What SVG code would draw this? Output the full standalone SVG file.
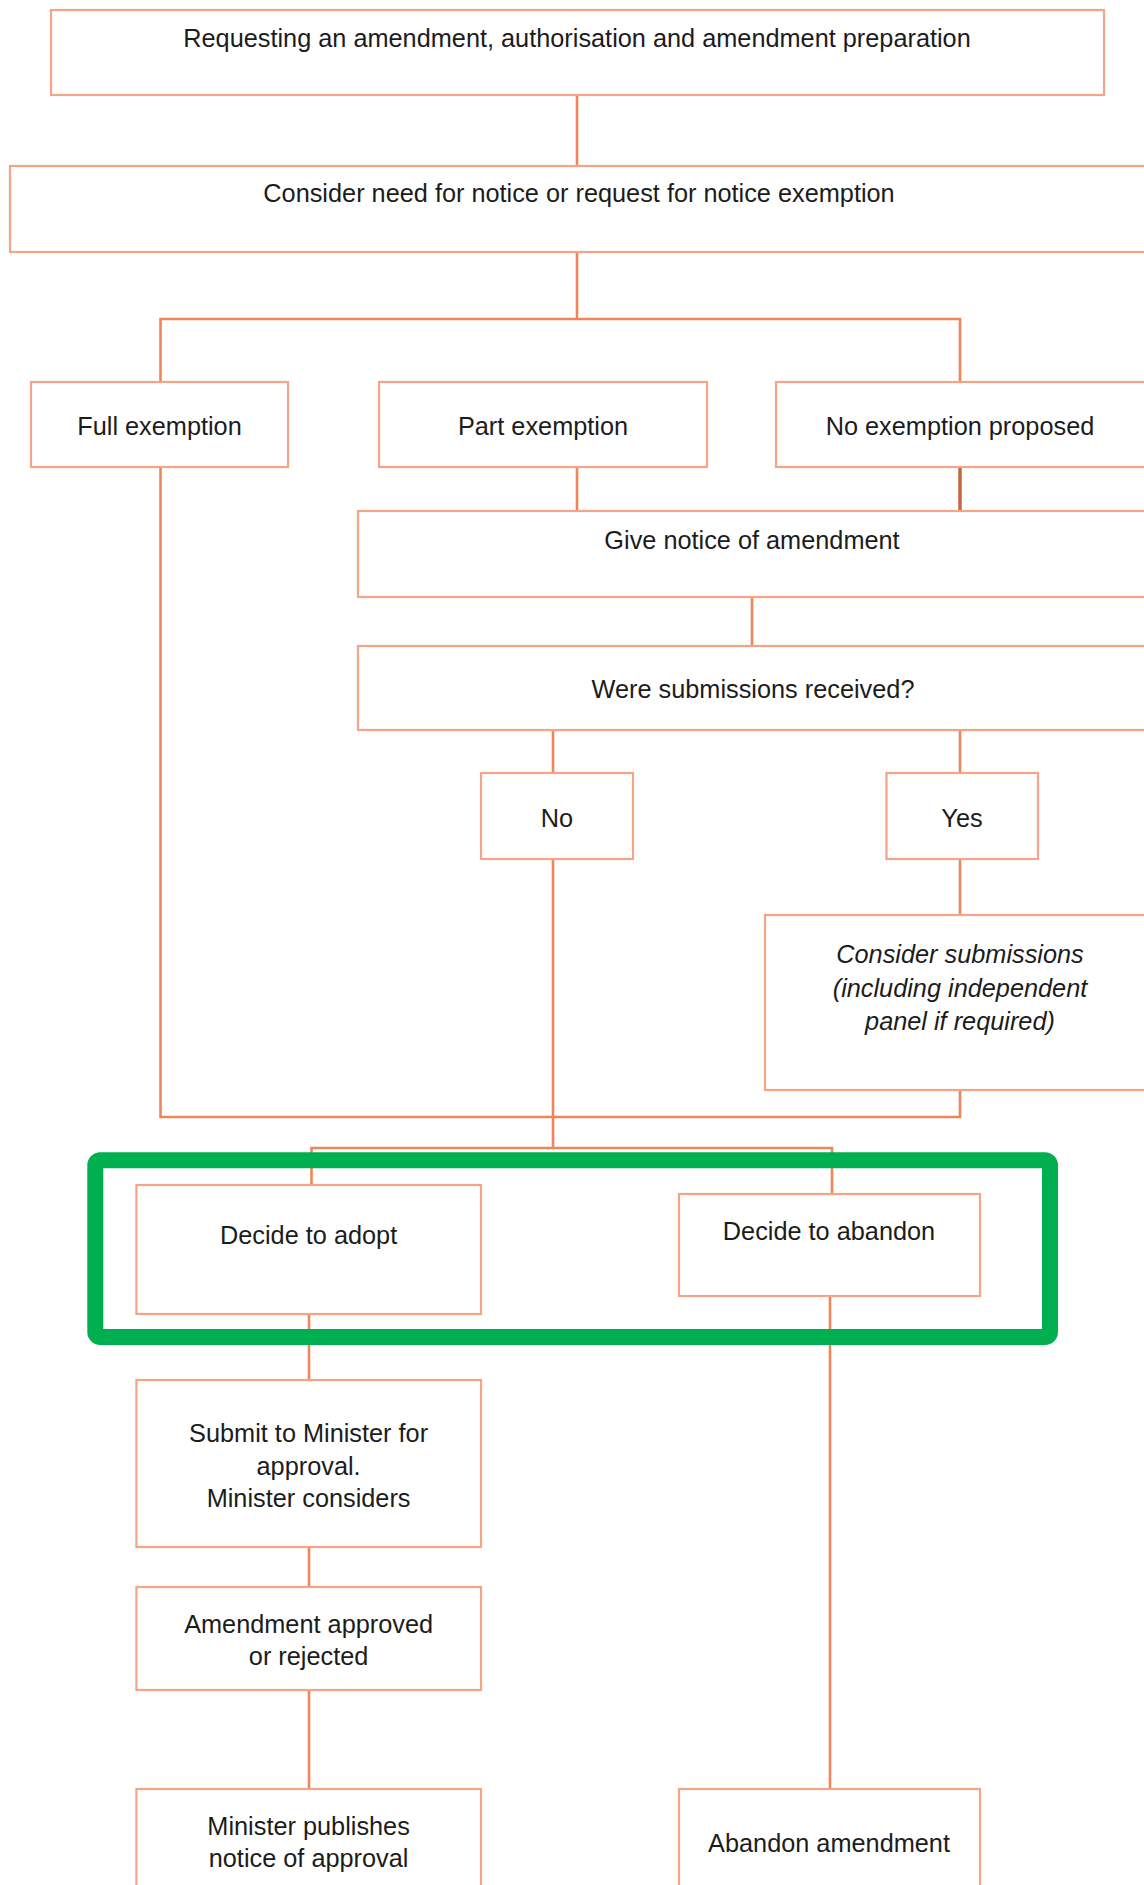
<svg xmlns="http://www.w3.org/2000/svg" width="1144" height="1885" viewBox="0 0 1144 1885">
<style>
.box{fill:#ffffff;stroke:#F5A585;stroke-width:2.2}
.t{font-family:"Liberation Sans",Arial,sans-serif;font-size:25.3px;fill:#1c1c1c;text-anchor:middle}
.it{font-style:italic}
.c{fill:none;stroke:#F08559;stroke-width:2.6}
.cd{fill:none;stroke:#C9653C;stroke-width:3.5}
.hl{fill:none;stroke:#00B050;stroke-width:16}
</style>
<rect x="0" y="0" width="1144" height="1885" fill="#ffffff"/>
<g id="connectors">
<line class="c" x1="577" y1="95" x2="577" y2="166"/>
<line class="c" x1="577" y1="252" x2="577" y2="319"/>
<path class="c" d="M160.5,382 V319 H960 V382"/>
<line class="c" x1="577" y1="467" x2="577" y2="511"/>
<line class="cd" x1="960" y1="467" x2="960" y2="511"/>
<line class="c" x1="752" y1="597" x2="752" y2="646"/>
<line class="c" x1="553" y1="730" x2="553" y2="773"/>
<line class="c" x1="960" y1="730" x2="960" y2="773"/>
<line class="c" x1="960" y1="859" x2="960" y2="915"/>
<path class="c" d="M160.5,467 V1117 H960 V1090"/>
<line class="c" x1="553" y1="859" x2="553" y2="1148"/>
<path class="c" d="M311.5,1185 V1148 H832 V1194"/>
<line class="c" x1="309" y1="1314" x2="309" y2="1380"/>
<line class="c" x1="309" y1="1547" x2="309" y2="1587"/>
<line class="c" x1="309" y1="1690" x2="309" y2="1789"/>
<line class="c" x1="830" y1="1296" x2="830" y2="1789"/>
</g>
<g id="n-request">
<rect class="box" x="51" y="10" width="1053" height="85"/>
<text class="t" x="577" y="47">Requesting an amendment, authorisation and amendment preparation</text>
</g>
<g id="n-consider-need">
<rect class="box" x="10" y="166" width="1150" height="86"/>
<text class="t" x="579" y="202">Consider need for notice or request for notice exemption</text>
</g>
<g id="n-full">
<rect class="box" x="31" y="382" width="257" height="85"/>
<text class="t" x="159.5" y="435">Full exemption</text>
</g>
<g id="n-part">
<rect class="box" x="379" y="382" width="328" height="85"/>
<text class="t" x="543" y="435">Part exemption</text>
</g>
<g id="n-none">
<rect class="box" x="776" y="382" width="400" height="85"/>
<text class="t" x="960" y="435">No exemption proposed</text>
</g>
<g id="n-give-notice">
<rect class="box" x="358" y="511" width="800" height="86"/>
<text class="t" x="752" y="549">Give notice of amendment</text>
</g>
<g id="n-submissions">
<rect class="box" x="358" y="646" width="800" height="84"/>
<text class="t" x="753" y="698">Were submissions received?</text>
</g>
<g id="n-no">
<rect class="box" x="481" y="773" width="152" height="86"/>
<text class="t" x="557" y="827">No</text>
</g>
<g id="n-yes">
<rect class="box" x="886.5" y="773" width="151.5" height="86"/>
<text class="t" x="962" y="827">Yes</text>
</g>
<g id="n-consider-sub">
<rect class="box" x="765" y="915" width="400" height="175"/>
<text class="t it" x="960" y="963">Consider submissions</text>
<text class="t it" x="960" y="996.5">(including independent</text>
<text class="t it" x="960" y="1029.5">panel if required)</text>
</g>
<g id="n-adopt">
<rect class="box" x="136.4" y="1185" width="344.6" height="129"/>
<text class="t" x="308.6" y="1244">Decide to adopt</text>
</g>
<g id="n-abandon">
<rect class="box" x="679" y="1194" width="301" height="102"/>
<text class="t" x="829" y="1239.5">Decide to abandon</text>
</g>
<g id="n-submit">
<rect class="box" x="136.4" y="1380" width="344.6" height="167"/>
<text class="t" x="308.6" y="1442">Submit to Minister for</text>
<text class="t" x="308.6" y="1474.6">approval.</text>
<text class="t" x="308.6" y="1507">Minister considers</text>
</g>
<g id="n-approved">
<rect class="box" x="136.4" y="1587" width="344.6" height="103"/>
<text class="t" x="308.6" y="1633">Amendment approved</text>
<text class="t" x="308.6" y="1665">or rejected</text>
</g>
<g id="n-publishes">
<rect class="box" x="136.4" y="1789" width="344.6" height="130"/>
<text class="t" x="308.6" y="1834.6">Minister publishes</text>
<text class="t" x="308.6" y="1867">notice of approval</text>
</g>
<g id="n-abandon-amendment">
<rect class="box" x="679" y="1789" width="301" height="130"/>
<text class="t" x="829" y="1851.7">Abandon amendment</text>
</g>
<g id="highlight">
<rect class="hl" x="95.3" y="1160.3" width="954.7" height="176.7" rx="5"/>
</g>
</svg>
